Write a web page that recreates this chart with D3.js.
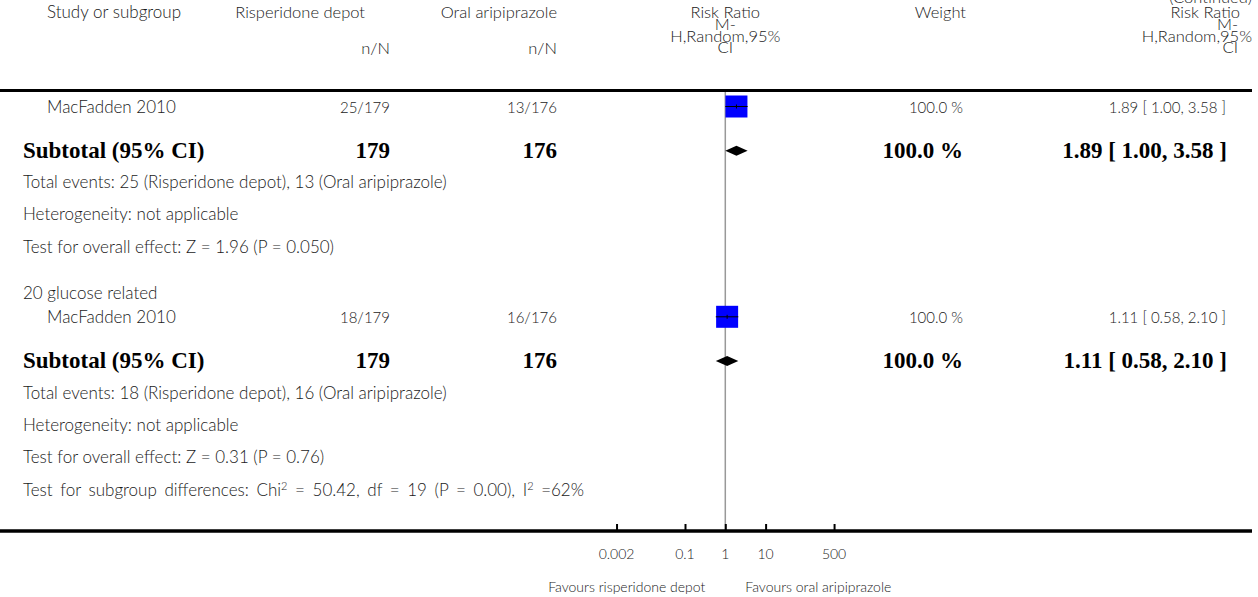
<!DOCTYPE html>
<html><head><meta charset="utf-8">
<script src="https://cdn.jsdelivr.net/npm/d3@7"></script>
<style>
body{margin:0;background:#fff;}
svg{display:block;}
.reg{font-family:Lato,"Open Sans",sans-serif;font-weight:300;font-size:17px;fill:#1a1a1a;}
.hdr{font-family:Lato,"Open Sans",sans-serif;font-weight:300;font-size:16.5px;fill:#1a1a1a;}
.num{font-family:Lato,"Open Sans",sans-serif;font-weight:300;font-size:15px;fill:#1a1a1a;}
.bold{font-family:"Liberation Serif","Times New Roman",serif;font-weight:bold;font-size:23px;fill:#000;}
.small{font-family:Lato,"Open Sans",sans-serif;font-weight:300;font-size:14px;fill:#1a1a1a;}
</style></head>
<body>
<script>
// ---------- data ----------
const groupTitles = ["", "20 glucose related"];
const studyNames = ["MacFadden 2010", "MacFadden 2010"];
const expEvents = [25, 18];
const expTotals = [179, 179];
const ctlEvents = [13, 16];
const ctlTotals = [176, 176];
const studyRR = [1.89, 1.11];
const studyLo = [1.00, 0.58];
const studyHi = [3.58, 2.10];
const studyWeights = [100.0, 100.0];
const subRR = [1.89, 1.11];
const subLo = [1.00, 0.58];
const subHi = [3.58, 2.10];
const zValues = ["1.96", "0.31"];
const pValues = ["0.050", "0.76"];
const expLabel = "Risperidone depot";
const ctlLabel = "Oral aripiprazole";
const tickValues = [0.002, 0.1, 1, 10, 500];
const tickLabels = ["0.002", "0.1", "1", "10", "500"];
const subgroupTest = {chi2: "50.42", df: "19", p: "0.00", i2: "62%"};

// ---------- layout ----------
const W = 1258, H = 597;
const svg = d3.select("body").append("svg").attr("width", W).attr("height", H);
const x = d3.scaleLog().domain([0.001, 1000]).range([604.4, 846.2]);

const colStudy = 47, colGroup = 23, colExp = 390, colCtl = 557, colW = 963, colCI = 1226;

// header
const hdr = svg.append("g");
hdr.append("text").attr("class","hdr").attr("x",1252).attr("y",3).attr("text-anchor","end").text("(Continued)");
hdr.append("text").attr("class","reg").attr("x",colStudy).attr("y",18).text("Study or subgroup");
hdr.append("text").attr("class","hdr").attr("x",colExp-25).attr("y",18).attr("text-anchor","end").text(expLabel);
hdr.append("text").attr("class","hdr").attr("x",colCtl).attr("y",18).attr("text-anchor","end").text(ctlLabel);
hdr.append("text").attr("class","hdr").attr("x",colExp).attr("y",54).attr("text-anchor","end").text("n/N");
hdr.append("text").attr("class","hdr").attr("x",colCtl).attr("y",54).attr("text-anchor","end").text("n/N");
const rrHead = ["Risk Ratio","M-","H,Random,95%","CI"];
const rrHeadY = [18, 30, 41.5, 53];
rrHead.forEach((t,i)=>{
  hdr.append("text").attr("class","hdr").attr("x",x(1)).attr("y",rrHeadY[i]).attr("text-anchor","middle").text(t);
});
hdr.append("text").attr("class","hdr").attr("x",966).attr("y",18).attr("text-anchor","end").text("Weight");
const rrHeadX = [1240, 1238, 1252, 1238];
rrHead.forEach((t,i)=>{
  hdr.append("text").attr("class","hdr").attr("x",rrHeadX[i]).attr("y",rrHeadY[i]).attr("text-anchor","end").text(t);
});

// top rule
svg.append("line").attr("x1",0).attr("x2",1252).attr("y1",90.5).attr("y2",90.5).attr("stroke","#000").attr("stroke-width",3);

// vertical line of no effect
svg.append("line").attr("x1",x(1)).attr("x2",x(1)).attr("y1",92).attr("y2",530)
  .attr("stroke","#999").attr("stroke-width",1.5);

// group blocks
const groupTop = [106.5, 316.8];
const g = svg.append("g");
groupTitles.forEach((title,i)=>{
  const y0 = groupTop[i];
  if (title) g.append("text").attr("class","reg").attr("x",colGroup).attr("y",y0-24+6).text(title);
  // study row
  g.append("text").attr("class","reg").attr("x",colStudy).attr("y",y0+6).text(studyNames[i]);
  g.append("text").attr("class","num").attr("x",colExp).attr("y",y0+6).attr("text-anchor","end").text(expEvents[i]+"/"+expTotals[i]);
  g.append("text").attr("class","num").attr("x",colCtl).attr("y",y0+6).attr("text-anchor","end").text(ctlEvents[i]+"/"+ctlTotals[i]);
  g.append("text").attr("class","num").attr("x",colW).attr("y",y0+6).attr("text-anchor","end").text(studyWeights[i].toFixed(1)+" %");
  g.append("text").attr("class","num").attr("x",colCI).attr("y",y0+6).attr("text-anchor","end")
    .text(studyRR[i].toFixed(2)+" [ "+studyLo[i].toFixed(2)+", "+studyHi[i].toFixed(2)+" ]");
  // square
  const s = 22 * Math.sqrt(studyWeights[i]/100);
  g.append("rect").attr("x",x(studyRR[i])-s/2).attr("y",y0-s/2).attr("width",s).attr("height",s).attr("fill","#0000ff");
  g.append("line").attr("x1",x(studyLo[i])).attr("x2",x(studyHi[i])).attr("y1",y0).attr("y2",y0).attr("stroke","#000").attr("stroke-width",1);
  g.append("line").attr("x1",x(studyRR[i])).attr("x2",x(studyRR[i])).attr("y1",y0-2).attr("y2",y0+2).attr("stroke","#000").attr("stroke-width",1);

  // subtotal
  const ys = y0 + 44.2;
  g.append("text").attr("class","bold").attr("x",colGroup).attr("y",ys+7).text("Subtotal (95% CI)");
  g.append("text").attr("class","bold").attr("x",colExp).attr("y",ys+7).attr("text-anchor","end").text(expTotals[i]);
  g.append("text").attr("class","bold").attr("x",colCtl).attr("y",ys+7).attr("text-anchor","end").text(ctlTotals[i]);
  g.append("text").attr("class","bold").attr("x",colW).attr("y",ys+7).attr("text-anchor","end").text(studyWeights[i].toFixed(1)+" %");
  g.append("text").attr("class","bold").attr("x",colCI+1).attr("y",ys+7).attr("text-anchor","end")
    .text(subRR[i].toFixed(2)+" [ "+subLo[i].toFixed(2)+", "+subHi[i].toFixed(2)+" ]");
  const dh = 5;
  g.append("path").attr("d",
    `M${x(subLo[i])},${ys} L${x(subRR[i])},${ys-dh} L${x(subHi[i])},${ys} L${x(subRR[i])},${ys+dh} Z`)
    .attr("fill","#000");

  const lines = [
    `Total events: ${expEvents[i]} (${expLabel}), ${ctlEvents[i]} (${ctlLabel})`,
    "Heterogeneity: not applicable",
    `Test for overall effect: Z = ${zValues[i]} (P = ${pValues[i]})`
  ];
  lines.forEach((t,j)=>{
    g.append("text").attr("class","reg").attr("x",colGroup).attr("y",ys+31.5+32.2*j+6).text(t);
  });
});

// subgroup difference test
const sd = svg.append("text").attr("class","reg").attr("x",colGroup).attr("y",496).attr("word-spacing","3px");
sd.append("tspan").text(`Test for subgroup differences: Chi`);
sd.append("tspan").attr("dy",-6).attr("font-size","11px").text("2");
sd.append("tspan").attr("dy",6).text(` = ${subgroupTest.chi2}, df = ${subgroupTest.df} (P = ${subgroupTest.p}), I`);
sd.append("tspan").attr("dy",-6).attr("font-size","11px").text("2");
sd.append("tspan").attr("dy",6).text(` =${subgroupTest.i2}`);

// axis
const axY = 531;
svg.append("line").attr("x1",0).attr("x2",1252).attr("y1",axY).attr("y2",axY).attr("stroke","#000").attr("stroke-width",3.5);
const axis = d3.axisTop(x).tickValues(tickValues).tickSize(7).tickFormat("");
const ag = svg.append("g").attr("transform",`translate(0,${axY})`).call(axis);
ag.select(".domain").remove();
ag.selectAll(".tick line").attr("stroke","#000").attr("stroke-width",2);
svg.append("g").selectAll("text").data(tickValues).join("text")
  .attr("class","small").attr("x",d=>x(d)).attr("y",559).attr("text-anchor","middle")
  .text((d,i)=>tickLabels[i]);
svg.append("text").attr("class","small").attr("x",x(1)-20).attr("y",592).attr("text-anchor","end").text("Favours risperidone depot");
svg.append("text").attr("class","small").attr("x",x(1)+20).attr("y",592).attr("text-anchor","start").text("Favours oral aripiprazole");
</script>
</body></html>
